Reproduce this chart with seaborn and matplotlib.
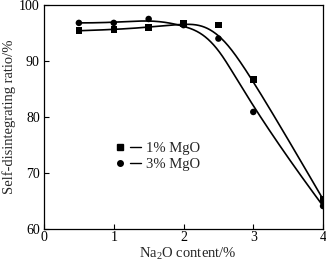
import numpy as np
import pandas as pd
import matplotlib
matplotlib.use("Agg")
import matplotlib.pyplot as plt
import seaborn as sns
from matplotlib.lines import Line2D
from matplotlib.legend_handler import HandlerTuple

na2o = [0.5, 1.0, 1.5, 2.0, 2.5, 3.0, 4.0]
mgo1 = [95.4, 95.6, 96.0, 96.7, 96.4, 86.7, 65.3]
mgo3 = [96.8, 96.8, 97.5, 96.4, 94.0, 80.9, 64.1]
series_names = ["1% MgO", "3% MgO"]
x_ticks = [0, 1, 2, 3, 4]
y_ticks = [60, 70, 80, 90, 100]


def bspline(px, py, n=400, k=3):
    """Clamped uniform B-spline using the data points as control points."""
    P = np.column_stack([px, py]).astype(float)
    m = len(P)
    inner = np.arange(1, m - k)
    knots = np.concatenate([np.zeros(k + 1), inner, np.full(k + 1, m - k)]).astype(float)
    ts = np.linspace(0, m - k, n)
    ts[-1] -= 1e-9

    def N(i, p, t):
        if p == 0:
            return 1.0 if knots[i] <= t < knots[i + 1] else 0.0
        a = 0.0
        if knots[i + p] != knots[i]:
            a = (t - knots[i]) / (knots[i + p] - knots[i]) * N(i, p - 1, t)
        b = 0.0
        if knots[i + p + 1] != knots[i + 1]:
            b = (knots[i + p + 1] - t) / (knots[i + p + 1] - knots[i + 1]) * N(i + 1, p - 1, t)
        return a + b

    out = np.array([sum(N(i, k, t) * P[i] for i in range(m)) for t in ts])
    return out[:, 0], out[:, 1]


plt.rcParams["font.family"] = ["Liberation Serif", "DejaVu Serif"]
sns.set_style("ticks")
plt.rcParams["font.family"] = ["Liberation Serif", "DejaVu Serif"]
plt.rcParams["mathtext.fontset"] = "custom"
plt.rcParams["mathtext.rm"] = "Liberation Serif"
plt.rcParams["mathtext.it"] = "Liberation Serif:italic"

fig = plt.figure(figsize=(3.26, 2.62), dpi=100)
ax = fig.add_axes([0.135, 0.126, 0.856, 0.855])

c1x, c1y = bspline(na2o, mgo1)
c3x, c3y = bspline(na2o, mgo3)
curves = pd.DataFrame({
    "x": np.concatenate([c1x, c3x]),
    "y": np.concatenate([c1y, c3y]),
    "s": [series_names[0]] * len(c1x) + [series_names[1]] * len(c3x),
})
pts = pd.DataFrame({
    "x": na2o + na2o,
    "y": mgo1 + mgo3,
    "s": [series_names[0]] * len(na2o) + [series_names[1]] * len(na2o),
})

sns.lineplot(data=curves, x="x", y="y", units="s", estimator=None, sort=False, color="black",
             linewidth=1.2, ax=ax, legend=False)
sns.scatterplot(data=pts, x="x", y="y", style="s", markers={series_names[0]: "s", series_names[1]: "o"},
                color="black", s=22, edgecolor="black", linewidth=0, ax=ax, legend=False, zorder=3)

ax.set_xlim(0, 4)
ax.set_ylim(60, 100)
ax.set_xticks(x_ticks)
ax.set_yticks(y_ticks)
ax.set_xticklabels([str(v) for v in x_ticks])
ax.set_yticklabels([str(v) for v in y_ticks])
ax.tick_params(direction="in", length=3.5, width=0.8, labelsize=10, top=False, right=False, colors="black")
ax.tick_params(axis="x", pad=1.5)
ax.tick_params(axis="y", pad=3)
for sp in ax.spines.values():
    sp.set_visible(True)
    sp.set_linewidth(0.9)
    sp.set_color("black")
ax.set_xlabel("Na$_2$O content/%", fontsize=10.5, labelpad=1)
ax.xaxis.set_label_coords(0.515, -0.075)
ax.set_ylabel("Self-disintegrating ratio/%", fontsize=10.5, labelpad=2)

h1 = (Line2D([], [], marker="s", color="black", linestyle="none", markersize=4),
      Line2D([], [], color="black", linewidth=1.0))
h2 = (Line2D([], [], marker="o", color="black", linestyle="none", markersize=4),
      Line2D([], [], color="black", linewidth=1.0))
ax.legend([h1, h2], series_names,
          handler_map={tuple: HandlerTuple(ndivide=None, pad=0.3)},
          loc="upper left", bbox_to_anchor=(0.252, 0.39), frameon=False,
          fontsize=10.5, handlelength=1.8, handletextpad=0.4, labelspacing=0.2,
          borderpad=0, borderaxespad=0)

fig.savefig("out.png", dpi=100)
